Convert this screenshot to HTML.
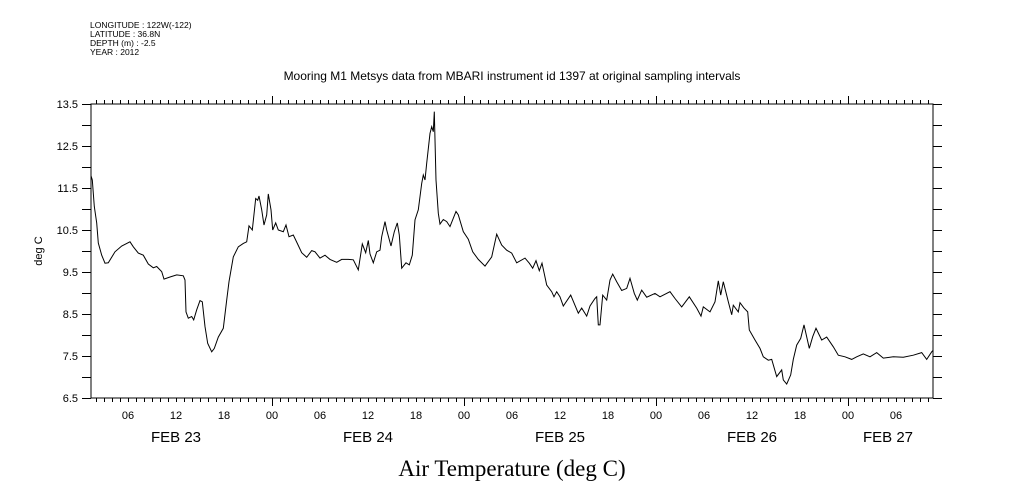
<!DOCTYPE html>
<html><head><meta charset="utf-8"><style>
body{margin:0;background:#fff;width:1009px;height:504px;overflow:hidden}
svg{display:block}
text{font-family:"Liberation Sans",sans-serif;fill:#000}
</style></head><body>
<svg id="chart" width="1009" height="504" viewBox="0 0 1009 504">
<g font-size="8.5">
<text x="90" y="28">LONGITUDE : 122W(-122)</text>
<text x="90" y="37">LATITUDE : 36.8N</text>
<text x="90" y="46">DEPTH (m) : -2.5</text>
<text x="90" y="55">YEAR : 2012</text>
</g>
<text x="512" y="80" font-size="12" text-anchor="middle">Mooring M1 Metsys data from MBARI instrument id 1397 at original sampling intervals</text>
<text x="42" y="251" font-size="11" text-anchor="middle" transform="rotate(-90 42 251)">deg C</text>
<text x="512" y="476" font-size="23" text-anchor="middle" style="font-family:'Liberation Serif',serif">Air Temperature (deg C)</text>
<rect x="91" y="104" width="842" height="294" fill="none" stroke="#000" stroke-width="1"/>
<g id="ticks"></g>
<path id="line" fill="none" stroke="#000" stroke-width="1"/>
</svg>
<script>
const hours=[1.38,1.54,1.79,2.09,2.29,2.71,3.13,3.54,4.38,5.21,6.25,6.66,7.29,7.91,8.54,9.16,9.59,10.21,10.5,11.25,12.09,12.91,13.13,13.25,13.54,13.96,14.21,14.59,15.0,15.29,15.63,15.96,16.46,16.79,17.29,17.91,18.34,18.63,19.16,19.79,20.41,20.84,21.13,21.54,21.96,22.21,22.38,22.71,23.0,23.34,23.54,23.88,24.09,24.46,24.79,25.41,25.75,26.13,26.66,27.16,27.71,28.34,28.96,29.38,30.0,30.63,31.25,32.09,32.71,33.54,34.16,34.79,35.29,35.71,36.04,36.25,36.66,37.09,37.5,37.71,38.13,38.34,38.88,39.29,39.66,39.91,40.21,40.75,41.16,41.54,41.88,42.29,42.71,42.91,43.13,43.34,43.75,43.96,44.16,44.29,44.5,44.79,45.0,45.41,45.84,46.25,47.0,47.29,47.91,48.54,49.09,49.79,50.63,51.46,52.09,52.71,53.34,53.96,54.59,55.63,56.16,56.59,57.0,57.41,57.75,58.34,58.96,59.25,59.59,60.0,60.41,61.34,62.29,62.71,63.34,63.75,64.38,64.59,64.79,65.0,65.34,65.84,66.25,66.59,67.09,67.71,68.34,68.75,69.29,69.66,70.21,70.84,71.88,72.5,73.75,74.38,75.21,76.16,77.09,77.63,77.91,78.75,79.38,79.79,80.09,80.41,81.04,81.46,81.66,82.29,82.5,83.0,83.46,83.66,84.38,85.0,85.41,86.04,86.46,87.09,87.71,87.91,88.34,88.84,89.16,89.59,90.09,90.5,91.16,91.59,92.0,92.71,93.34,94.16,94.79,95.63,96.46,97.09,97.91,98.75,99.59,100.41,101.66,102.91,104.16,105.21,105.84,106.46,106.66];
const temps=[11.79,11.69,11.06,10.67,10.19,9.90,9.71,9.72,9.98,10.12,10.22,10.10,9.95,9.90,9.69,9.60,9.63,9.51,9.33,9.38,9.43,9.41,9.31,8.55,8.40,8.44,8.36,8.60,8.82,8.79,8.20,7.80,7.60,7.68,7.95,8.16,8.83,9.27,9.86,10.10,10.18,10.22,10.60,10.50,11.25,11.21,11.31,10.98,10.62,10.86,11.36,10.98,10.50,10.67,10.50,10.46,10.62,10.34,10.38,10.18,9.96,9.85,10.01,9.98,9.83,9.90,9.80,9.73,9.80,9.80,9.79,9.55,10.17,9.96,10.25,9.93,9.72,9.98,10.02,10.34,10.70,10.50,10.12,10.46,10.67,10.38,9.59,9.72,9.67,9.90,10.74,10.98,11.61,11.81,11.69,12.09,12.80,12.96,12.84,13.32,11.69,10.90,10.64,10.75,10.70,10.58,10.94,10.86,10.46,10.28,9.98,9.80,9.64,9.86,10.40,10.14,10.02,9.95,9.72,9.83,9.71,9.59,9.77,9.53,9.71,9.19,9.03,8.91,9.03,8.91,8.69,8.95,8.52,8.64,8.45,8.69,8.87,8.91,8.24,8.24,8.95,8.83,9.31,9.45,9.27,9.06,9.11,9.35,8.99,8.83,9.07,8.90,8.99,8.91,9.03,8.87,8.67,8.91,8.64,8.45,8.67,8.55,8.79,9.29,8.95,9.27,8.79,8.48,8.71,8.55,8.77,8.64,8.55,8.12,7.88,7.68,7.48,7.40,7.42,7.01,7.17,6.93,6.83,7.05,7.42,7.76,7.92,8.24,7.68,7.96,8.16,7.88,7.95,7.72,7.52,7.48,7.42,7.48,7.55,7.48,7.58,7.45,7.48,7.47,7.52,7.58,7.42,7.60,7.64];
const yTickLabels=["13.5","12.5","11.5","10.5","9.5","8.5","7.5","6.5"];
const hourLabels=["06","12","18","00","06","12","18","00","06","12","18","00","06","12","18","00","06"];
const dayLabels=["FEB 23","FEB 24","FEB 25","FEB 26","FEB 27"];
const dayLabelHours=[12,36,60,84,101];
const H0=1.375,H1=106.625,V0=6.5,V1=13.5,L=91,R=933,T=104,B=398;
const xs=h=>L+(h-H0)/(H1-H0)*(R-L);
const ys=v=>B-(v-V0)/(V1-V0)*(B-T);
const NS='http://www.w3.org/2000/svg';
const g=document.getElementById('ticks');
function mk(tag,a){const e=document.createElementNS(NS,tag);for(const k in a)e.setAttribute(k,a[k]);g.appendChild(e);return e;}
let d='';
for(let i=0;i<hours.length;i++){d+=(i?'L':'M')+xs(hours[i]).toFixed(1)+' '+ys(temps[i]).toFixed(1);}
document.getElementById('line').setAttribute('d',d);
for(let v=V0;v<=V1+1e-9;v+=0.5){
  const y=Math.round(ys(v))+0.5;
  const t1=mk('line',{x1:L-9,x2:L,y1:y,y2:y,stroke:'#000'});
  
  
  const t2=mk('line',{x1:R,x2:R+9,y1:y,y2:y,stroke:'#000'});
  
  
}
yTickLabels.forEach(s=>{
  const t=mk('text',{x:L-13,y:ys(parseFloat(s))+4,'font-size':11,'text-anchor':'end'});
  t.textContent=s;
  
  
});
for(let h=Math.ceil(H0);h<=H1;h++){
  const x=Math.round(xs(h))+0.5;const len=(h%24===0)?8:4;
  const a=mk('line',{x1:x,x2:x,y1:T-len,y2:T,stroke:'#000'});
  
  
  const b=mk('line',{x1:x,x2:x,y1:B,y2:B+len,stroke:'#000'});
  
  
}
hourLabels.forEach((s,i)=>{
  const h=6+6*i;
  if(h>H1) return;
  const t=mk('text',{x:xs(h),y:419,'font-size':11,'text-anchor':'middle'});
  t.textContent=s;
  
  
});
dayLabels.forEach((s,i)=>{
  const t=mk('text',{x:xs(dayLabelHours[i]),y:442,'font-size':15,'text-anchor':'middle'});
  t.textContent=s;
  
  
});
</script>
</body></html>
